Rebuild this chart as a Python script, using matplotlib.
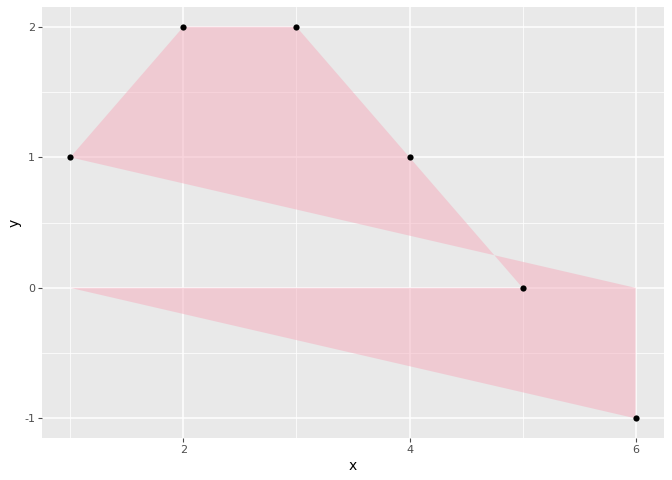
"""Pink polygon with its vertices, ggplot-style panel."""

import matplotlib

matplotlib.use("Agg")

import matplotlib.pyplot as plt
from matplotlib.patches import Polygon

# points shown as black dots
point_x = [1, 2, 3, 4, 5, 6]
point_y = [1, 2, 2, 1, 0, -1]

# polygon outline (order matters, it crosses itself)
poly_x = [1, 6, 6, 1, 2, 3, 4, 5]
poly_y = [0, -1, 0, 1, 2, 2, 1, 0]

x_ticks = [2, 4, 6]
y_ticks = [-1, 0, 1, 2]
x_minor = [1, 3, 5]
y_minor = [-0.5, 0.5, 1.5]

PANEL_BG = "#E9E9E9"
TICK_COLOR = "#4D4D4D"


def main() -> None:
    fig = plt.figure(figsize=(6.72, 4.8), dpi=100)
    ax = fig.add_axes([0.0625, 0.0875, 0.9255, 0.8975])
    ax.set_facecolor(PANEL_BG)

    ax.set_xlim(0.75, 6.25)
    ax.set_ylim(-1.15, 2.15)

    for v in x_minor:
        ax.axvline(v, color="white", lw=0.55, zorder=0.5)
    for v in y_minor:
        ax.axhline(v, color="white", lw=0.55, zorder=0.5)
    for v in x_ticks:
        ax.axvline(v, color="white", lw=1.1, zorder=0.6)
    for v in y_ticks:
        ax.axhline(v, color="white", lw=1.1, zorder=0.6)

    poly = Polygon(list(zip(poly_x, poly_y)), closed=True,
                   facecolor="#F5ADBD", alpha=0.5, edgecolor="none", zorder=1)
    ax.add_patch(poly)

    ax.scatter(point_x, point_y, s=20, color="black", zorder=3, linewidths=0)

    ax.set_xticks(x_ticks)
    ax.set_yticks(y_ticks)
    ax.set_xticklabels([str(v) for v in x_ticks])
    ax.set_yticklabels([str(v) for v in y_ticks])
    ax.tick_params(colors=TICK_COLOR, labelcolor=TICK_COLOR, labelsize=8,
                   length=3, width=0.8, pad=2)
    for spine in ax.spines.values():
        spine.set_visible(False)

    ax.set_xlabel("x", fontsize=10, labelpad=3)
    ax.set_ylabel("y", fontsize=10, labelpad=2)

    fig.savefig("out.png", dpi=100)
    plt.close(fig)


if __name__ == "__main__":
    main()
